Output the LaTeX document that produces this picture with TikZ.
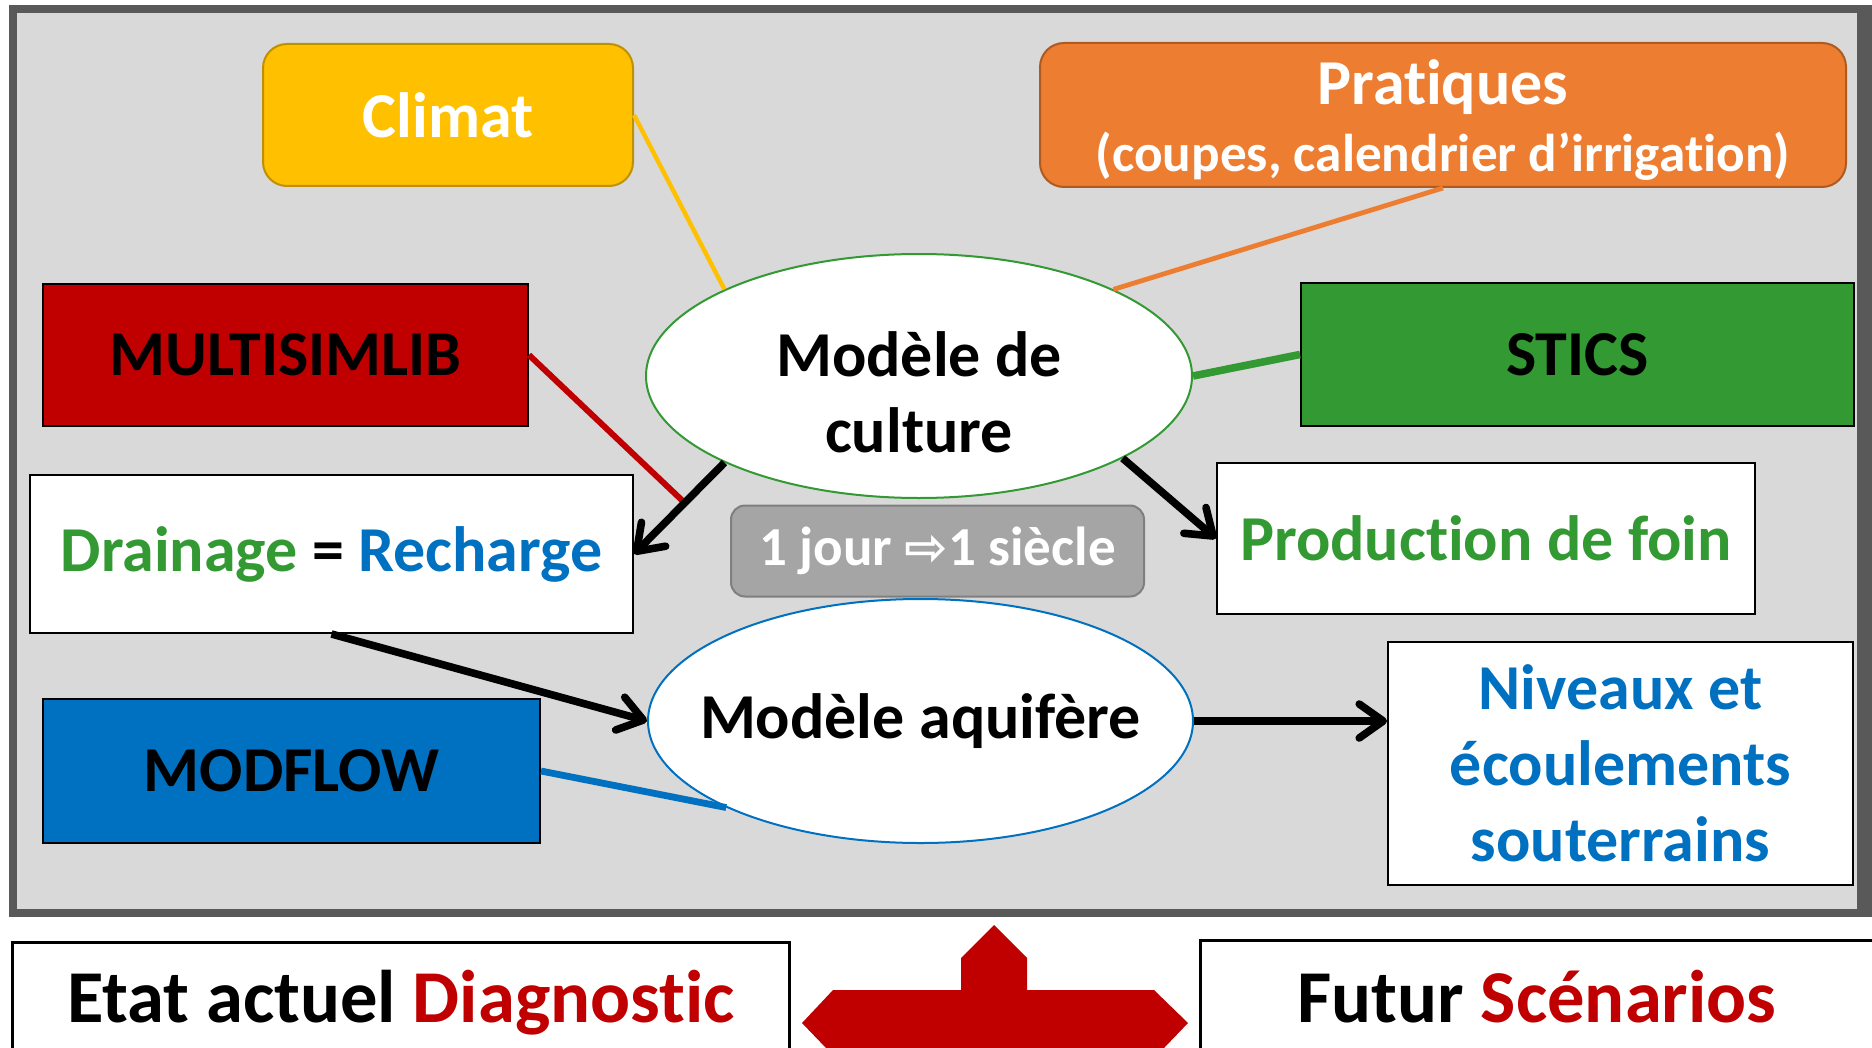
\documentclass[tikz,border=0pt]{standalone}
\usepackage{fontspec}
\setmainfont{Carlito}[Ligatures=NoCommon]
\newfontfamily\dejavu{DejaVu Sans}
\usetikzlibrary{shapes.geometric,arrows.meta,calc}
\definecolor{bggray}{HTML}{D9D9D9}
\definecolor{framegray}{HTML}{595959}
\definecolor{climatfill}{HTML}{FFC000}
\definecolor{climatborder}{HTML}{BF9000}
\definecolor{pratfill}{HTML}{ED7D31}
\definecolor{pratborder}{HTML}{AE5A21}
\definecolor{myred}{HTML}{C00000}
\definecolor{mygreen}{HTML}{339933}
\definecolor{myblue}{HTML}{0070C0}
\definecolor{jourfill}{HTML}{A5A5A5}
\definecolor{jourborder}{HTML}{7F7F7F}
\begin{document}
\begin{tikzpicture}[x=0.5pt,y=-0.5pt,
  bigtxt/.style={font=\bfseries\fontsize{32}{38}\selectfont},
  rbox/.style={rounded corners=12pt, line width=1pt, inner sep=0pt, align=center},
  sqbox/.style={draw=black, line width=1pt, inner sep=0pt, align=center},
  ell/.style={ellipse, fill=white, line width=1pt, inner sep=0pt},
  arr/.style={line width=3.8pt, black, -{Straight Barb[length=12pt,width=17pt,line width=3.8pt,round]}},
]
\useasboundingbox (0,0) rectangle (1872,1048);
\clip (0,0) rectangle (1872,1048);
% frame
\fill[framegray] (9,5) rectangle (1872,917);
\fill[bggray] (17,13) rectangle (1857,909);

% nodes
\node[rbox, fill=climatfill, draw=climatborder, minimum width=185pt, minimum height=71pt,
  text=white, font=\bfseries\fontsize{32}{38}\selectfont] (climat) at (448,115) {Climat};
\node[rbox, fill=pratfill, draw=pratborder, minimum width=403pt, minimum height=72pt] (prat) at (1443,115) {};
\node[anchor=base, text=white, font=\bfseries\fontsize{32}{38}\selectfont] (prat1) at (1443,105) {Pratiques};
\node[anchor=base, text=white, font=\bfseries\fontsize{26.6}{32}\selectfont] (prat2) at (1443,172)
  {(coupes, calendrier d’irrigation)};
\node[ell, draw=mygreen, minimum width=273pt, minimum height=122pt,
  label={[bigtxt, align=center, yshift=-8pt, name=culturet]center:{Modèle de\\culture}}] (culture) at (919,376) {};
\node[sqbox, fill=myred, minimum width=242.5pt, minimum height=71pt, bigtxt] (multi) at (285.5,355) {MULTISIMLIB};
\node[sqbox, fill=mygreen, minimum width=276.5pt, minimum height=71.5pt, bigtxt] (stics) at (1577.5,354.5) {STICS};
\node[sqbox, fill=white, minimum width=301.5pt, minimum height=79pt, bigtxt] (drain) at (331.5,554)
  {\textcolor{mygreen}{Drainage} = \textcolor{myblue}{Recharge}};
\node[rbox, rounded corners=7pt, fill=jourfill, draw=jourborder, minimum width=206.5pt, minimum height=45.5pt,
  text=white, font=\bfseries\fontsize{27.5}{32}\selectfont] (jour) at (937.5,551)
  {1 jour {\dejavu\fontsize{26}{30}\selectfont ⇨}1 siècle};
\node[sqbox, fill=white, minimum width=269pt, minimum height=75.5pt, text=mygreen, bigtxt] (prod) at (1486,538.5)
  {Production de foin};
\node[ell, draw=myblue, minimum width=272.5pt, minimum height=122pt,
  label={[bigtxt, name=aquit]center:Modèle aquifère}] (aqui) at (920.5,721) {};
\node[sqbox, fill=myblue, minimum width=248.5pt, minimum height=72pt, bigtxt] (modflow) at (291.5,771) {MODFLOW};
\node[sqbox, fill=white, minimum width=232.5pt, minimum height=121.5pt, text=myblue, bigtxt] (niveaux) at (1620.5,763.5)
  {Niveaux et\\écoulements\\souterrains};

% connectors
\coordinate (mjoin) at ($(culture.204)!0.44!(drain.east)$);
\draw[climatfill, line width=2.2pt] (climat.east) -- (culture.156);
\draw[pratfill, line width=2.4pt] (prat.south) -- (culture.24);
\draw[myred, line width=3pt] (multi.east) -- (mjoin);
\draw[mygreen, line width=3.8pt] (stics.west) -- (culture.east);
\draw[myblue, line width=3.4pt] (modflow.east) -- (aqui.204);
\draw[arr] (culture.204) -- (drain.east);
\draw[arr] (culture.-22) -- (prod.west);
\draw[arr] (drain.south) -- (aqui.west);
\draw[arr] (aqui.east) -- (aqui.east -| niveaux.west);

% bottom
\node[draw=black, fill=white, line width=1.5pt, minimum width=388.5pt, minimum height=89pt, inner sep=0pt] (etat) at (400.5,1031) {};
\node[anchor=base, font=\bfseries\fontsize{37.3}{44}\selectfont] (etatt) at (401,1022)
  {Etat actuel \textcolor{myred}{Diagnostic}};
\node[draw=black, fill=white, line width=1.5pt, minimum width=340pt, minimum height=90pt, inner sep=0pt] (futur) at (1540,1030) {};
\node[anchor=base, font=\bfseries\fontsize{37.3}{44}\selectfont] (futurt) at (1537,1022)
  {Futur \textcolor{myred}{Scénarios}};
\fill[myred] (994,925) -- (1027,958) -- (1027,990) -- (1154,990) -- (1188,1023) -- (1140,1073)
  -- (850,1073) -- (802,1023) -- (833,990) -- (961,990) -- (961,958) -- cycle;
\end{tikzpicture}
\end{document}
